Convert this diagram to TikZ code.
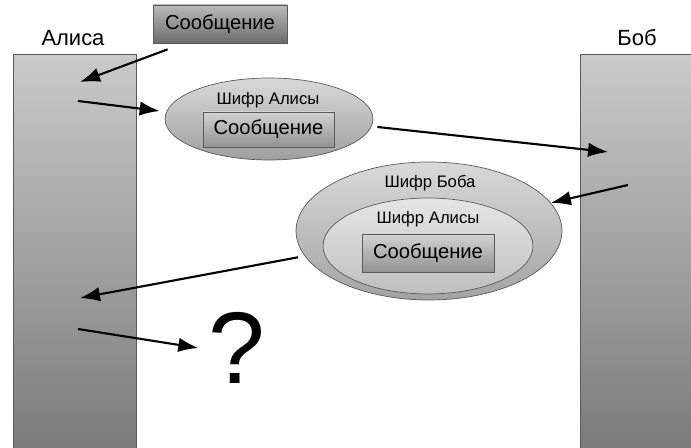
\documentclass[tikz,border=0pt]{standalone}
\usepackage{fontspec}
\setmainfont{Liberation Sans}
\usepackage{tikz}
\usetikzlibrary{arrows.meta, positioning, shapes, calc}
\definecolor{bartop}{RGB}{202, 202, 202}
\definecolor{barbottom}{RGB}{122, 122, 122}
\definecolor{boxtop}{RGB}{186, 186, 186}
\definecolor{boxbottom}{RGB}{108, 108, 108}
\definecolor{edgegray}{RGB}{90, 90, 90}

\begin{document}
\begin{tikzpicture}[x=0.02cm, y=-0.02cm,
    bar/.style={draw=edgegray, top color=bartop, bottom color=barbottom, minimum width=2.46cm, minimum height=7.96cm},
    msgbox/.style={draw=edgegray, top color=boxtop, bottom color=boxbottom, minimum height=0.76cm, font=\fontsize{11.5}{13}\selectfont},
    cipher/.style={draw=edgegray, ellipse},
    who/.style={font=\fontsize{12.5}{14}\selectfont},
    tag/.style={font=\fontsize{9.5}{11}\selectfont},
    arr/.style={-{Latex[length=4mm, width=2.9mm]}, line width=1.2pt}
]
\useasboundingbox (0,0) rectangle (691,448);

% parties
\node[bar] (alice) at (74.5,253) {};
\node[bar] (bob) at (641.5,253) {};
\node[who] (alicename) at (73,38) {Алиса};
\node[who] (bobname) at (637,38) {Боб};

% plain message
\node[msgbox, minimum width=2.68cm] (msg) at (220,24) {Сообщение};

% Alice's cipher
\node[cipher, minimum width=4.16cm, minimum height=1.64cm,
      top color=gray!30, bottom color=gray!75] (encA) at (269,119) {};
\node[tag] (encAtag) at (268,100) {Шифр Алисы};
\node[msgbox, minimum width=2.62cm, minimum height=0.7cm,
      top color=gray!35, bottom color=gray!85] (msgA) at (268.5,129.5) {Сообщение};

% Bob's cipher round Alice's
\node[cipher, minimum width=5.32cm, minimum height=2.76cm,
      top color=gray!30, bottom color=gray!72] (encB) at (429,231) {};
\node[cipher, minimum width=4.2cm, minimum height=1.92cm,
      top color=gray!20, bottom color=gray!50] (encBA) at (428,246) {};
\node[tag] (encBtag) at (430,183) {Шифр Боба};
\node[tag] (encBAtag) at (428,219) {Шифр Алисы};
\node[msgbox, minimum width=2.64cm, minimum height=0.76cm,
      top color=gray!35, bottom color=gray!85] (msgB) at (428,253) {Сообщение};

\node[font=\fontsize{58}{60}\selectfont, inner sep=0pt] (q) at (237,348) {?};

\coordinate (a1) at (80,82);
\coordinate (a2) at (78,101);
\coordinate (b1) at (608,152);
\coordinate (b2) at (628,185);
\coordinate (a3) at (80,298);
\coordinate (a4) at (78,329);

\draw[arr] ([shift={(15,6)}]msg.south west) -- (a1);
\draw[arr] (a2) -- ([shift={(-5,-8)}]encA.west);
\draw[arr] ([shift={(4,8)}]encA.east) -- (b1);
\draw[arr] (b2) -- (encB.13);
\draw[arr] ([shift={(-6,2)}]encB.191) -- (a3);
\draw[arr] (a4) -- ([shift={(-10,0)}]q.west);
\end{tikzpicture}
\end{document}
